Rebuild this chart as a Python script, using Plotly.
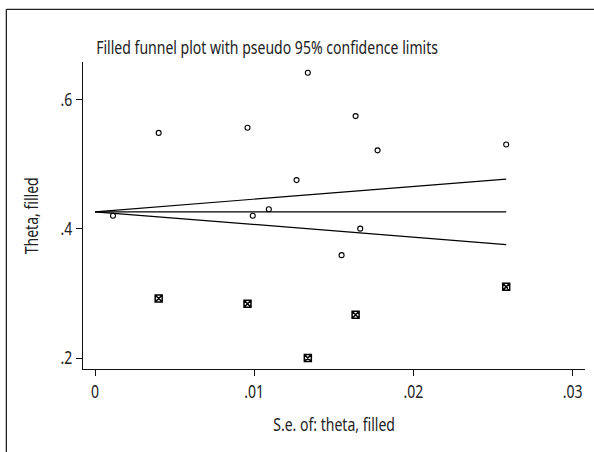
import plotly.graph_objects as go

# Observed studies
se_obs = [0.00113, 0.0040, 0.00958, 0.00991, 0.01092, 0.01266, 0.01337, 0.01549, 0.01637, 0.01666, 0.01775, 0.02583]
theta_obs = [0.420, 0.548, 0.556, 0.420, 0.430, 0.475, 0.641, 0.359, 0.574, 0.400, 0.521, 0.530]
# Filled (imputed) studies
se_fill = [0.0040, 0.00958, 0.01337, 0.01637, 0.02583]
theta_fill = [0.292, 0.284, 0.200, 0.267, 0.310]
# Pseudo 95% confidence limits
se_line = [0.0, 0.02583]
pooled = [0.426, 0.426]
upper = [0.426, 0.4766]
lower = [0.426, 0.3754]

x_ticks = [0, 0.01, 0.02, 0.03]
x_ticktext = ["0", ".01", ".02", ".03"]
y_ticks = [0.2, 0.4, 0.6]
y_ticktext = [".2", ".4", ".6"]

FONT = "Noto Sans, sans-serif"
TXT = "#222222"
FS = 18

W, H = 594, 452
L, R, T, B = 83.3, 9, 62, 82.7
pw = W - L - R
ph = H - T - B

def px_x(p):
    return (p - L) / pw

def px_y(p):
    return 1 - (p - T) / ph

fig = go.Figure()
for yv in (upper, pooled, lower):
    fig.add_trace(go.Scatter(x=se_line, y=yv, mode="lines",
                             line=dict(color="black", width=1.2),
                             hoverinfo="skip", showlegend=False))
fig.add_trace(go.Scatter(x=se_obs, y=theta_obs, mode="markers",
                         marker=dict(symbol="circle-open", size=5, color="black",
                                     line=dict(width=1.1, color="black")),
                         showlegend=False))
fig.add_trace(go.Scatter(x=se_fill, y=theta_fill, mode="markers",
                         marker=dict(symbol="square-x-open", size=7, color="black",
                                     line=dict(width=1.5, color="black")),
                         showlegend=False))

fig.update_layout(
    width=W, height=H,
    margin=dict(l=L, r=R, t=T, b=B),
    paper_bgcolor="white", plot_bgcolor="white",
    font=dict(family=FONT, size=FS, color=TXT),
    title=dict(text="Filled funnel plot with pseudo 95% confidence limits",
               x=px_x(96.5), xref="paper", xanchor="left",
               y=1 - 48 / H, yref="container", yanchor="middle",
               font=dict(family=FONT, size=FS, color=TXT)),
    xaxis=dict(range=[-0.000754, 0.03078], tickvals=x_ticks, ticktext=x_ticktext,
               showgrid=False, zeroline=False, showline=True, linecolor="#111",
               linewidth=1.2, ticks="outside", ticklen=6, tickcolor="#111",
               tickwidth=1.2, tickfont=dict(size=FS, color=TXT)),
    yaxis=dict(range=[0.183, 0.6576], tickvals=y_ticks, ticktext=y_ticktext,
               showgrid=False, zeroline=False, showline=True, linecolor="#111",
               linewidth=1.2, ticks="outside", ticklen=6, tickcolor="#111",
               tickwidth=1.2, tickfont=dict(size=FS, color=TXT)),
    annotations=[
        dict(text="S.e. of: theta, filled", xref="paper", yref="paper",
             x=0.5, y=px_y(424), xanchor="center", yanchor="middle",
             showarrow=False, font=dict(size=FS, color=TXT)),
        dict(text="Theta, filled", xref="paper", yref="paper",
             x=px_x(31), y=0.5, xanchor="center", yanchor="middle",
             textangle=-90, showarrow=False, font=dict(size=FS, color=TXT)),
    ],
    shapes=[
        dict(type="line", xref="paper", yref="paper",
             x0=px_x(6.7), y0=px_y(H + 2), x1=px_x(6.7), y1=px_y(9.3),
             line=dict(color="#222", width=1.3)),
        dict(type="line", xref="paper", yref="paper",
             x0=px_x(6.7), y0=px_y(9.3), x1=px_x(W + 2), y1=px_y(9.3),
             line=dict(color="#222", width=1.3)),
    ],
)

# Remove page margin and horizontally condense the text to mimic a condensed face
post = """
document.body.style.margin='0';
document.body.style.overflow='hidden';
function squish(){
  document.querySelectorAll('svg text').forEach(function(t){
    if (t.getAttribute('data-sq')) return;
    var w = t.getComputedTextLength();
    if (w > 0) {
      t.setAttribute('textLength', (w * 0.78).toFixed(2));
      t.setAttribute('lengthAdjust', 'spacingAndGlyphs');
      t.setAttribute('data-sq', '1');
    }
  });
}
squish();
setTimeout(squish, 30);
"""

fig.write_html("out.html", post_script=post, config={"displayModeBar": False})
